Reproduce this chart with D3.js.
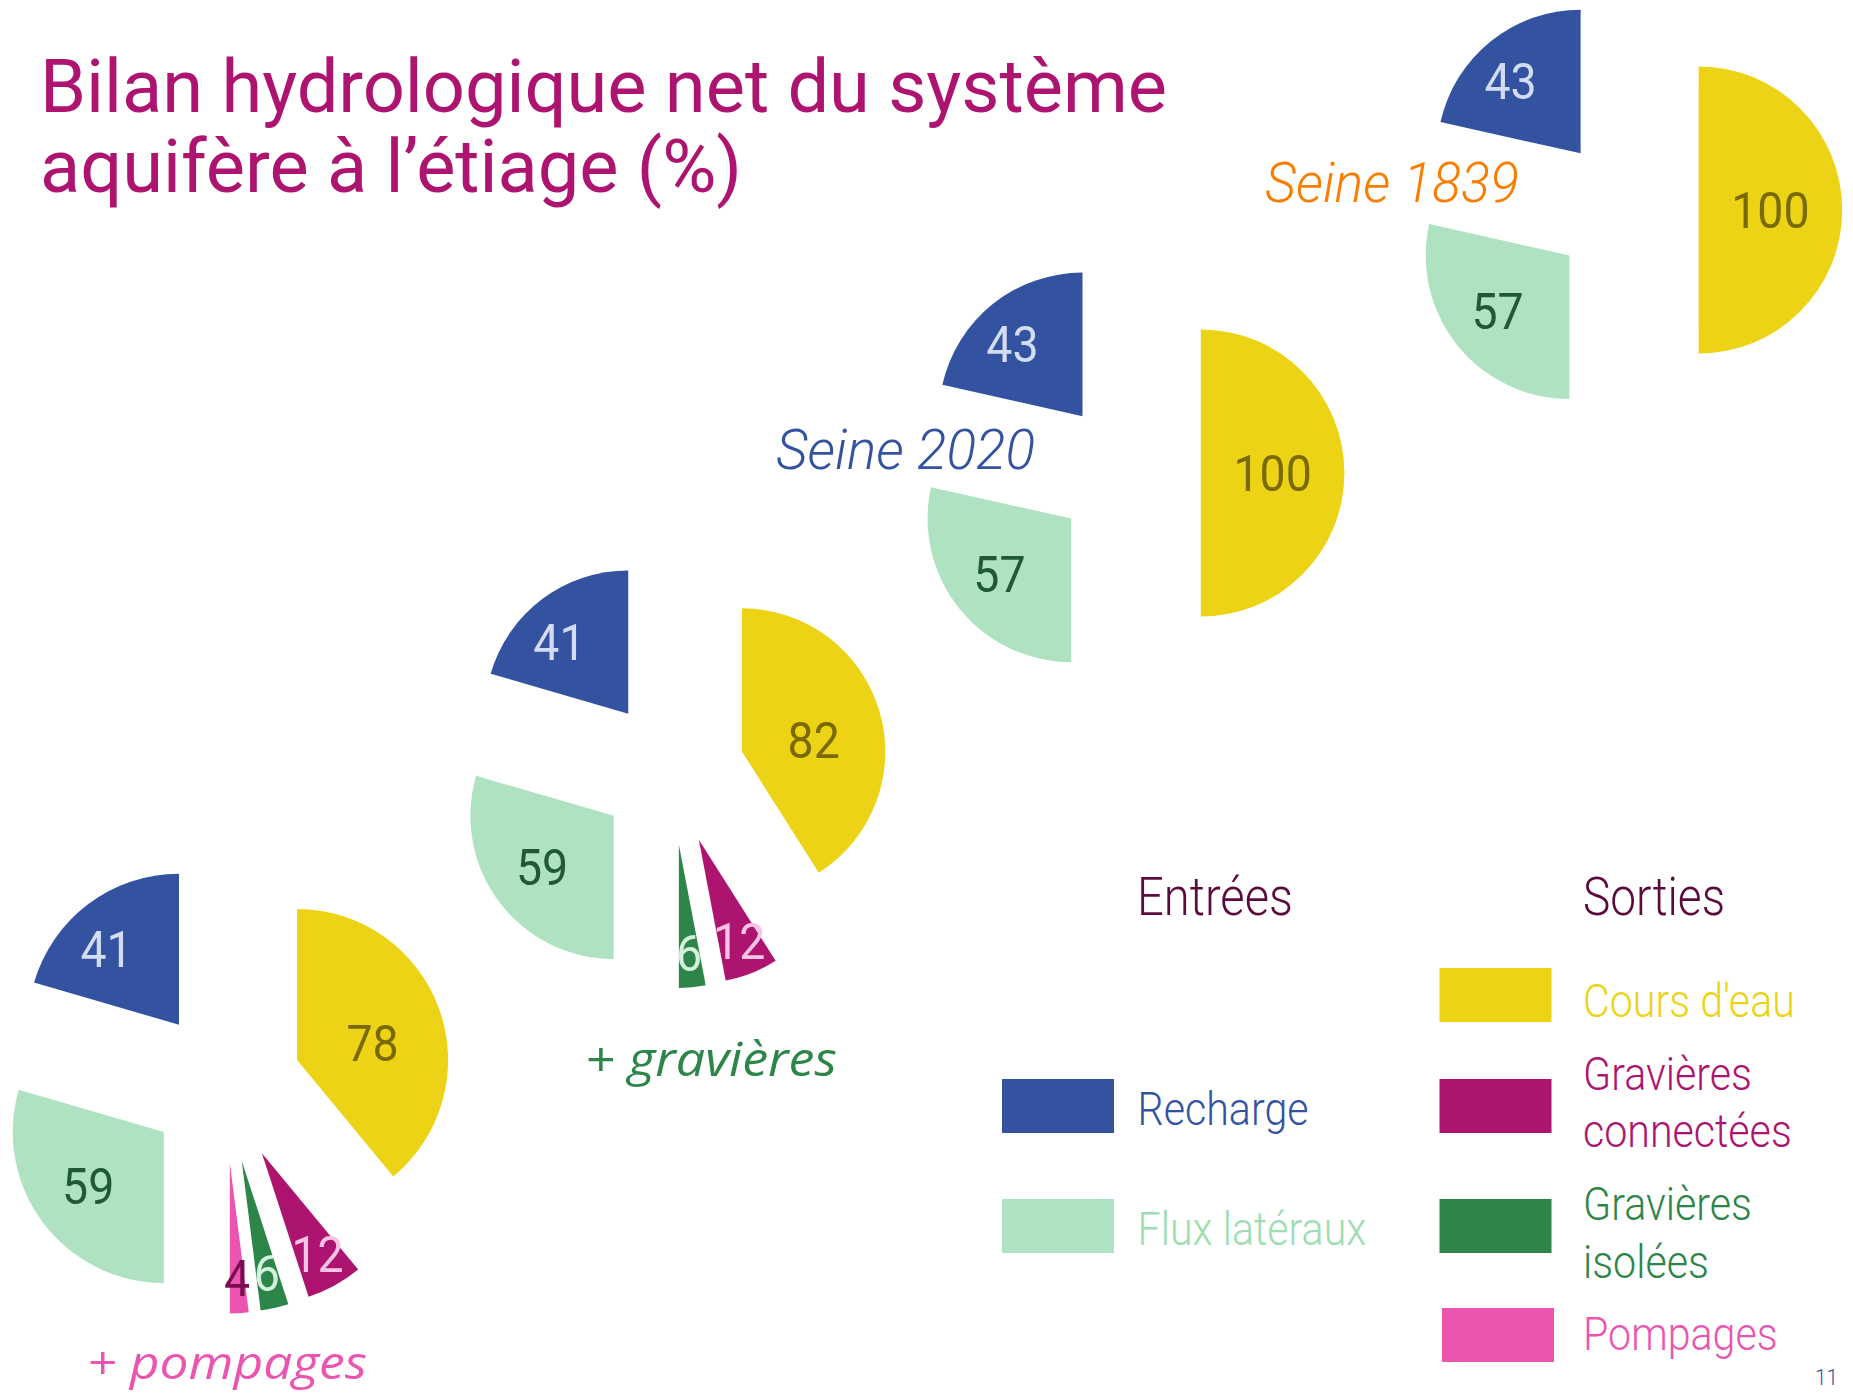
<!DOCTYPE html>
<html><head><meta charset="utf-8">
<script src="https://cdn.jsdelivr.net/npm/d3@7"></script>
<style>html,body{margin:0;padding:0;background:#fff;} svg{display:block}</style>
</head><body>
<svg id="c" width="1853" height="1393"></svg>
<script>
// ---------------- DATA ----------------
const pieNames = ["Seine 1839", "Seine 2020", "+ gravières", "+ pompages"];
const inputCategories = ["Recharge", "Flux latéraux"];
const outputCategories = ["Cours d'eau", "Gravières connectées", "Gravières isolées", "Pompages"];
const recharge = [43, 43, 41, 41];
const fluxLateraux = [57, 57, 59, 59];
const coursDeau = [100, 100, 82, 78];
const gravieresConnectees = [0, 0, 12, 12];
const gravieresIsolees = [0, 0, 6, 6];
const pompages = [0, 0, 0, 4];
const titleLines = ["Bilan hydrologique net du système", "aquifère à l’étiage (%)"];
const legendHeaders = ["Entrées", "Sorties"];
const legendLabels = {"Recharge":["Recharge"], "Flux latéraux":["Flux latéraux"], "Cours d'eau":["Cours d'eau"],
  "Gravières connectées":["Gravières","connectées"], "Gravières isolées":["Gravières","isolées"], "Pompages":["Pompages"]};
const pageNumber = "11";

// ---------------- STYLE / LAYOUT ----------------
const fill = {"Recharge":"#3353A1","Flux latéraux":"#AEE2C1","Cours d'eau":"#ECD315",
  "Gravières connectées":"#AD1470","Gravières isolées":"#2E8549","Pompages":"#EB55AF"};
const valueColor = {"Recharge":"#D3DCF4","Flux latéraux":"#1F5A32","Cours d'eau":"#7A6A05",
  "Gravières connectées":"#F8C3E4","Gravières isolées":"#D3F1DD","Pompages":"#7C0C50"};
const legendTextColor = {"Recharge":"#3353A1","Flux latéraux":"#9CDDB1","Cours d'eau":"#ECD315",
  "Gravières connectées":"#AD1470","Gravières isolées":"#2E8549","Pompages":"#EB55AF"};

const pieLayout = [
  {cx:1626, cy:210, r:143.6, d:72.6},
  {cx:1128, cy:473, r:143.6, d:72.8},
  {cx:672,  cy:772, r:143.3, d:72.9},
  {cx:225,  cy:1086, r:151,  d:76.6}
];
const nameLayout = [
  {x:1265, y:202, w:254, font:"Roboto", size:55, weight:300, color:"#FA7D00"},
  {x:776,  y:469, w:259, font:"Roboto", size:55, weight:300, color:"#3353A1"},
  {x:585,  y:1076, w:252, font:"'Open Sans'", size:47, weight:400, color:"#2E8549"},
  {x:87,   y:1379, w:280, font:"'Open Sans'", size:46, weight:400, color:"#EB55AF"}
];

const svg = d3.select("#c");
svg.append("rect").attr("width",1853).attr("height",1393).attr("fill","#fff");

function addText(parent, str, x, y, o){
  const t = parent.append("text").text(str)
    .attr("font-family", o.font || "Roboto")
    .attr("font-size", o.size)
    .attr("font-weight", o.weight || 400)
    .attr("font-style", o.style || "normal")
    .attr("fill", o.color)
    .attr("text-anchor", o.anchor || "start");
  let sx = o.sx || 1;
  if (o.w) { const len = t.node().getComputedTextLength(); sx = o.w / len; }
  t.attr("transform", `translate(${x},${y}) scale(${sx},1)`);
  return sx;
}

function sectorBBoxCenter(a0, a1, r){
  const lo = Math.min(a0,a1), hi = Math.max(a0,a1);
  const pts = [[0,0],[r*Math.sin(a0),-r*Math.cos(a0)],[r*Math.sin(a1),-r*Math.cos(a1)]];
  for (let k=-4;k<=4;k++){ const a=k*Math.PI/2; if (a>lo+1e-9 && a<hi-1e-9) pts.push([r*Math.sin(a),-r*Math.cos(a)]); }
  const xs = pts.map(p=>p[0]), ys = pts.map(p=>p[1]);
  return [(d3.min(xs)+d3.max(xs))/2, (d3.min(ys)+d3.max(ys))/2];
}

const inPie = d3.pie().sort(null).value(d=>d.value).startAngle(0).endAngle(-Math.PI);
const outPie = d3.pie().sort(null).value(d=>d.value).startAngle(0).endAngle(Math.PI);
const NUM_SIZE = 50, NUM_SX = 0.93;

pieNames.forEach((name, i) => {
  const L = pieLayout[i];
  const g = svg.append("g").attr("transform", `translate(${L.cx},${L.cy})`);
  const arc = d3.arc().innerRadius(0).outerRadius(L.r);
  const ins = inPie([{cat:"Recharge", value:recharge[i]}, {cat:"Flux latéraux", value:fluxLateraux[i]}]);
  const outs = outPie([{cat:"Cours d'eau", value:coursDeau[i]}, {cat:"Gravières connectées", value:gravieresConnectees[i]},
    {cat:"Gravières isolées", value:gravieresIsolees[i]}, {cat:"Pompages", value:pompages[i]}]).filter(s=>s.data.value>0);
  const slices = ins.concat(outs);
  slices.forEach(s => {
    const mid = (s.startAngle + s.endAngle)/2;
    const ox = L.d*Math.sin(mid), oy = -L.d*Math.cos(mid);
    const sg = g.append("g").attr("transform", `translate(${ox},${oy})`);
    sg.append("path").attr("d", arc(s)).attr("fill", fill[s.data.cat]);
  });
  slices.forEach(s => {
    const mid = (s.startAngle + s.endAngle)/2;
    const ox = L.d*Math.sin(mid), oy = -L.d*Math.cos(mid);
    let lx, ly;
    if (Math.abs(s.endAngle - s.startAngle) < 0.5) {
      lx = 0.765*L.r*Math.sin(mid); ly = -0.765*L.r*Math.cos(mid);
    } else {
      [lx, ly] = sectorBBoxCenter(s.startAngle, s.endAngle, L.r);
    }
    addText(g, String(s.data.value), ox+lx, oy+ly+NUM_SIZE*0.711/2,
      {size:NUM_SIZE, color:valueColor[s.data.cat], anchor:"middle", sx:NUM_SX});
  });
  const N = nameLayout[i];
  addText(svg, name, N.x, N.y, {font:N.font, size:N.size, weight:N.weight, style:"italic", color:N.color, w:N.w});
});

// ---------------- LEGEND ----------------
const legend = svg.append("g");
addText(legend, legendHeaders[0], 1137, 915, {size:54, weight:300, color:"#5C0A3C", w:156});
addText(legend, legendHeaders[1], 1583, 915, {size:54, weight:300, color:"#5C0A3C", w:142});

const legendItems = [
  {cat:inputCategories[0], rx:1002, ry:1079, tx:1137.6, base:[1124.6]},
  {cat:inputCategories[1], rx:1002, ry:1199, tx:1137.6, base:[1245]},
  {cat:outputCategories[0], rx:1439.5, ry:968, tx:1583, base:[1016.5]},
  {cat:outputCategories[1], rx:1439.5, ry:1079, tx:1583, base:[1089.6,1147.4]},
  {cat:outputCategories[2], rx:1439.5, ry:1199, tx:1583, base:[1219.9,1278.4]},
  {cat:outputCategories[3], rx:1442, ry:1308, tx:1583, base:[1349.8]}
];
const probe = legend.append("text").text("Recharge").attr("font-family","Roboto").attr("font-size",47).attr("font-weight",300);
const LEG_SX = 171 / probe.node().getComputedTextLength();
probe.remove();
legendItems.forEach(it => {
  legend.append("rect").attr("x", it.rx).attr("y", it.ry).attr("width", 112).attr("height", 54).attr("fill", fill[it.cat]);
  legendLabels[it.cat].forEach((line, k) => {
    addText(legend, line, it.tx, it.base[k], {size:47, weight:300, color:legendTextColor[it.cat], sx:LEG_SX});
  });
});

// ---------------- TITLE ----------------
const title = svg.append("g");
const tsx = addText(title, titleLines[0], 40, 111.7, {size:74, color:"#AD1470", w:1127});
addText(title, titleLines[1], 40, 191.7, {size:74, color:"#AD1470", sx:tsx});

// page number
addText(svg, pageNumber, 1815, 1385, {size:22, weight:300, color:"#3353A1", sx:0.95});
</script>
</body></html>
